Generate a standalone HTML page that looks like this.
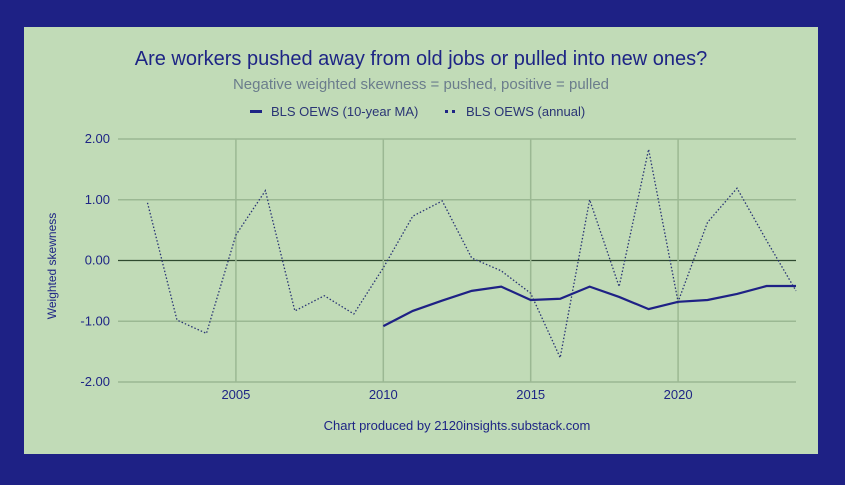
<!DOCTYPE html>
<html><head><meta charset="utf-8"><style>
body{margin:0;background:#1e2185;}
svg{display:block;font-family:"Liberation Sans",sans-serif;}
</style></head><body>
<svg width="845" height="485">
<rect x="0" y="0" width="845" height="485" fill="#1e2185"/>
<rect x="24" y="27" width="794" height="427" fill="#c1dbb7"/>
<text x="421" y="65" text-anchor="middle" font-size="20" fill="#1e2585">Are workers pushed away from old jobs or pulled into new ones?</text>
<text x="421" y="89" text-anchor="middle" font-size="15" fill="#6b7d8c">Negative weighted skewness = pushed, positive = pulled</text>
<g>
<g><rect x="250" y="110" width="12" height="3" fill="#1e2585"/><text x="271" y="116" font-size="13" fill="#2a3575">BLS OEWS (10-year MA)</text></g>
<g><rect x="445" y="110" width="3" height="3" fill="#1e2585"/><rect x="452" y="110" width="3" height="3" fill="#1e2585"/><text x="466" y="116" font-size="13" fill="#2a3575">BLS OEWS (annual)</text></g>
</g>
<g id="grid"></g>
<g id="axes"></g>
<g id="series"></g>
<text transform="translate(56,266) rotate(-90)" text-anchor="middle" font-size="12" fill="#1e2585">Weighted skewness</text>
<text x="457" y="430" text-anchor="middle" font-size="13" fill="#1e2585">Chart produced by 2120insights.substack.com</text>
</svg>
<script>
const years=[2002,2003,2004,2005,2006,2007,2008,2009,2010,2011,2012,2013,2014,2015,2016,2017,2018,2019,2020,2021,2022,2023,2024];
const annual=[0.95,-0.98,-1.2,0.42,1.15,-0.83,-0.58,-0.88,-0.12,0.73,0.98,0.04,-0.17,-0.54,-1.6,1.0,-0.43,1.83,-0.68,0.63,1.19,0.33,-0.5];
const maYears=[2010,2011,2012,2013,2014,2015,2016,2017,2018,2019,2020,2021,2022,2023,2024];
const maValues=[-1.08,-0.83,-0.66,-0.5,-0.43,-0.65,-0.63,-0.43,-0.6,-0.8,-0.68,-0.65,-0.55,-0.42,-0.42];
const xTicks=[2005,2010,2015,2020];
const yTicks=[2,1,0,-1,-2];
const yTickLabels=["2.00","1.00","0.00","-1.00","-2.00"];
const NS="http://www.w3.org/2000/svg";
const X0=118,X1=796,xMin=2001,xMax=2024;
const Y0=139,Y1=382,yMax=2,yMin=-2;
function xs(v){return X0+(v-xMin)/(xMax-xMin)*(X1-X0);}
function ys(v){return Y0+(yMax-v)/(yMax-yMin)*(Y1-Y0);}
function mk(tag,attrs,parent){const e=document.createElementNS(NS,tag);for(const k in attrs)e.setAttribute(k,attrs[k]);parent.appendChild(e);return e;}
const grid=document.getElementById('grid'),axes=document.getElementById('axes'),series=document.getElementById('series');
yTicks.forEach((t,i)=>{
 const l=mk('line',{x1:X0,x2:X1,y1:ys(t),y2:ys(t),stroke:t===0?'#2f4a2f':'#9bb893','stroke-width':t===0?1.2:1.5},grid);
 
 
 const tx=mk('text',{x:110,y:ys(t)+4,'text-anchor':'end','font-size':13,fill:'#1e2585'},axes);
 tx.textContent=yTickLabels[i];
 
 
});
xTicks.forEach(t=>{
 const l=mk('line',{x1:xs(t),x2:xs(t),y1:Y0,y2:Y1,stroke:'#9bb893','stroke-width':1.5},grid);
 
 
 const tx=mk('text',{x:xs(t),y:Y1+17,'text-anchor':'middle','font-size':13,fill:'#1e2585'},axes);
 tx.textContent=t;
 
 
});
const pa=mk('polyline',{points:years.map((y,i)=>xs(y)+','+ys(annual[i])).join(' '),fill:'none',stroke:'#2a3575','stroke-width':1.3,'stroke-dasharray':'1.5,2'},series);


const pm=mk('polyline',{points:maYears.map((y,i)=>xs(y)+','+ys(maValues[i])).join(' '),fill:'none',stroke:'#1e2185','stroke-width':2.2},series);


</script>
</body></html>
